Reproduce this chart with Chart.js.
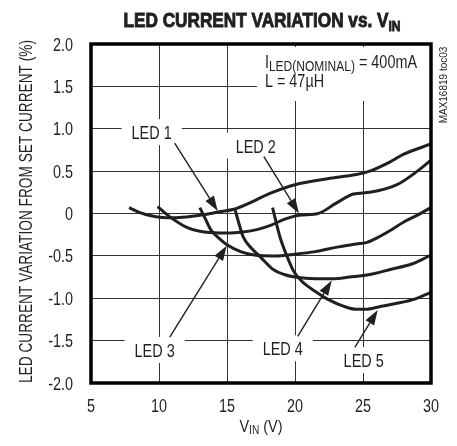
<!DOCTYPE html>
<html>
<head>
<meta charset="utf-8">
<script src="https://cdn.jsdelivr.net/npm/chart.js@4.4.0/dist/chart.umd.min.js"></script>
<style>
  html, body { margin: 0; padding: 0; background: #fff; }
</style>
</head>
<body>
<canvas id="ledVariationChart" width="457" height="446"></canvas>
<script>
// axis ticks
const vinTicks = [5, 10, 15, 20, 25, 30];
const varTicks = [-2.0, -1.5, -1.0, -0.5, 0, 0.5, 1.0, 1.5, 2.0];
const varTickLabels = ['-2.0', '-1.5', '-1.0', '-0.5', '0', '0.5', '1.0', '1.5', '2.0'];

// curves: VIN (V) and current variation (%)
const led1Vin = [7.8, 8.6, 9.5, 10.5, 12.0, 13.5, 14.4, 15.5, 17.0, 18.2, 20.0, 22.4, 24.5, 25.5, 27.0, 28.0, 30.0];
const led1Var = [0.07, 0.01, -0.03, -0.05, -0.04, -0.01, 0.02, 0.05, 0.15, 0.24, 0.34, 0.41, 0.46, 0.50, 0.61, 0.70, 0.82];
const led2Vin = [9.9, 10.8, 12.0, 13.0, 14.5, 16.0, 17.2, 18.2, 19.2, 20.3, 21.7, 23.0, 24.3, 25.5, 27.5, 29.0, 30.0];
const led2Var = [0.08, -0.04, -0.16, -0.21, -0.23, -0.22, -0.19, -0.14, -0.07, -0.02, 0.00, 0.12, 0.23, 0.25, 0.34, 0.50, 0.63];
const led3Vin = [13.0, 13.4, 13.8, 14.4, 15.0, 16.0, 17.0, 18.5, 20.0, 21.5, 23.0, 24.5, 25.3, 26.0, 27.0, 28.0, 29.0, 30.0];
const led3Var = [0.07, -0.06, -0.19, -0.29, -0.37, -0.45, -0.49, -0.50, -0.48, -0.45, -0.40, -0.36, -0.34, -0.29, -0.20, -0.10, -0.02, 0.07];
const led4Vin = [15.6, 15.9, 16.2, 16.8, 17.5, 18.4, 19.2, 20.0, 21.5, 22.8, 24.0, 25.5, 27.0, 28.7, 30.0];
const led4Var = [0.04, -0.13, -0.28, -0.41, -0.52, -0.66, -0.72, -0.75, -0.77, -0.77, -0.75, -0.72, -0.66, -0.59, -0.49];
const led5Vin = [18.35, 18.9, 19.4, 19.9, 20.5, 21.5, 22.5, 23.5, 24.5, 25.2, 26.2, 27.5, 28.8, 30.0];
const led5Var = [0.07, -0.28, -0.50, -0.68, -0.80, -0.92, -1.02, -1.09, -1.13, -1.13, -1.10, -1.06, -1.01, -0.93];

const ledNames = ['LED 1', 'LED 2', 'LED 3', 'LED 4', 'LED 5'];
const ledVin = [led1Vin, led2Vin, led3Vin, led4Vin, led5Vin];
const ledVar = [led1Var, led2Var, led3Var, led4Var, led5Var];

// callout labels and arrows, in data units
const labelVin = [9.46, 17.11, 9.68, 19.10, 25.05];
const labelVar = [0.96, 0.80, -1.61, -1.59, -1.73];
const arrowFromVin = [11.15, 17.71, 10.79, 20.2, 24.4];
const arrowFromVar = [0.83, 0.67, -1.46, -1.45, -1.58];
const arrowToVin = [14.32, 20.29, 14.98, 22.7, 26.08];
const arrowToVar = [0.03, 0.0, -0.38, -0.79, -1.14];

// no condensed face installed, so text is squeezed horizontally
const FONT = "'Liberation Sans', Arial, sans-serif";
const INK = '#231f20';
const SQ = 0.8;

function setFont(c, size, weight) {
    c.font = (weight || 'normal') + ' ' + size + 'px ' + FONT;
}

// parts: [text, size, dy, weight]
function runWidth(c, parts) {
    let w = 0;
    parts.forEach(p => { setFont(c, p[1], p[3]); w += c.measureText(p[0]).width; });
    return w;
}

function drawRun(c, parts, x, y, align, sx, heavy) {
    sx = sx || 1;
    const w = runWidth(c, parts);
    c.save();
    c.translate(x, y);
    c.scale(sx, 1);
    let cx = align === 'center' ? -w / 2 : (align === 'right' ? -w : 0);
    c.textAlign = 'left';
    c.textBaseline = 'alphabetic';
    c.fillStyle = INK;
    c.strokeStyle = INK;
    c.lineWidth = heavy || 0;
    parts.forEach(p => {
        setFont(c, p[1], p[3]);
        c.fillText(p[0], cx, p[2] || 0);
        if (heavy) c.strokeText(p[0], cx, p[2] || 0);
        cx += c.measureText(p[0]).width;
    });
    c.restore();
    return w * sx;
}

const LABEL_SIZE = 19;
const LABEL_SQ = 0.76;
const noteLine1 = [['I', 18], ['LED(NOMINAL)', 15, 3], [' = 400mA', 18]];
const noteLine2 = [['L = 47\u00b5H', 18]];

const annotations = {
    id: 'annotations',
    beforeDatasetsDraw(chart) {
        const c = chart.ctx, xs = chart.scales.x, ys = chart.scales.y;
        c.save();
        c.fillStyle = '#fff';
        ledNames.forEach((name, i) => {
            const cx = xs.getPixelForValue(labelVin[i]);
            const cy = ys.getPixelForValue(labelVar[i]);
            const w = runWidth(c, [[name, LABEL_SIZE]]) * LABEL_SQ;
            c.fillRect(cx - w / 2 - 10, cy - 13, w + 20, 26);
        });
        const nx = xs.getPixelForValue(17.79);
        c.fillRect(nx - 8, chart.chartArea.top + 3, chart.chartArea.right - nx + 8, 54);
        c.restore();
    },
    afterDatasetsDraw(chart) {
        const c = chart.ctx, xs = chart.scales.x, ys = chart.scales.y;
        const a = chart.chartArea;
        c.save();
        // labels and arrows
        ledNames.forEach((name, i) => {
            const cx = xs.getPixelForValue(labelVin[i]);
            const cy = ys.getPixelForValue(labelVar[i]);
            drawRun(c, [[name, LABEL_SIZE]], cx, cy + 7, 'center', LABEL_SQ);
            const x0 = xs.getPixelForValue(arrowFromVin[i]), y0 = ys.getPixelForValue(arrowFromVar[i]);
            const x1 = xs.getPixelForValue(arrowToVin[i]), y1 = ys.getPixelForValue(arrowToVar[i]);
            const ang = Math.atan2(y1 - y0, x1 - x0);
            const hl = 15, hw = 5;
            const bx = x1 - hl * Math.cos(ang), by = y1 - hl * Math.sin(ang);
            c.strokeStyle = INK;
            c.lineWidth = 1.4;
            c.beginPath();
            c.moveTo(x0, y0);
            c.lineTo(bx, by);
            c.stroke();
            c.fillStyle = INK;
            c.beginPath();
            c.moveTo(x1, y1);
            c.lineTo(bx + hw * Math.sin(ang), by - hw * Math.cos(ang));
            c.lineTo(bx - hw * Math.sin(ang), by + hw * Math.cos(ang));
            c.closePath();
            c.fill();
        });
        // condition note
        const nx = xs.getPixelForValue(17.79);
        drawRun(c, noteLine1, nx, ys.getPixelForValue(1.713), 'left', SQ);
        drawRun(c, noteLine2, nx, ys.getPixelForValue(1.49), 'left', SQ);
        // frame
        c.strokeStyle = '#000';
        c.lineWidth = 3.5;
        c.strokeRect(a.left, a.top, a.right - a.left, a.bottom - a.top);
        c.restore();
    },
    afterDraw(chart) {
        const c = chart.ctx, xs = chart.scales.x, ys = chart.scales.y;
        const a = chart.chartArea;
        c.save();
        // tick labels, placed by the chart's scales
        vinTicks.forEach(v => {
            drawRun(c, [[String(v), 18]], xs.getPixelForValue(v), a.bottom + 29, 'center', SQ);
        });
        varTicks.forEach((v, i) => {
            drawRun(c, [[varTickLabels[i], 18]], a.left - 18, ys.getPixelForValue(v) + 6.5, 'right', SQ);
        });
        // title
        drawRun(c, [['LED CURRENT VARIATION vs. V', 20, 0, 'bold'], ['IN', 14, 4, 'bold']], 262, 27, 'center', 0.86, 0.9);
        // x axis title
        drawRun(c, [['V', 17], ['IN', 12, 2], [' (V)', 17]], (a.left + a.right) / 2, 432, 'center', 0.85);
        // y axis title
        c.save();
        c.translate(32, (a.top + a.bottom) / 2 - 2);
        c.rotate(-Math.PI / 2);
        drawRun(c, [['LED CURRENT VARIATION FROM SET CURRENT (%)', 18]], 0, 0, 'center', 0.76);
        c.restore();
        // figure id
        c.save();
        c.translate(447, 85);
        c.rotate(-Math.PI / 2);
        drawRun(c, [['MAX16819 toc03', 10]], 0, 0, 'center', 1);
        c.restore();
        c.restore();
    }
};

const ctx = document.getElementById('ledVariationChart');

new Chart(ctx, {
    type: 'line',
    data: {
        datasets: ledNames.map((name, i) => ({
            label: name,
            data: ledVin[i].map((v, j) => ({ x: v, y: ledVar[i][j] })),
            borderColor: INK,
            borderWidth: 3,
            pointRadius: 0,
            fill: false,
            cubicInterpolationMode: 'monotone'
        }))
    },
    options: {
        responsive: false,
        animation: false,
        events: [],
        layout: { padding: { top: 44, right: 26, bottom: 0, left: 0 } },
        plugins: {
            legend: { display: false },
            tooltip: { enabled: false },
            title: { display: false }
        },
        scales: {
            x: {
                type: 'linear',
                min: vinTicks[0],
                max: vinTicks[vinTicks.length - 1],
                afterBuildTicks: s => { s.ticks = vinTicks.map(v => ({ value: v })); },
                afterFit: s => { s.height = 63; },
                ticks: { display: false },
                grid: { color: '#333', lineWidth: 1, drawTicks: false },
                border: { display: false }
            },
            y: {
                min: varTicks[0],
                max: varTicks[varTicks.length - 1],
                afterBuildTicks: s => { s.ticks = varTicks.map(v => ({ value: v })); },
                afterFit: s => { s.width = 91; },
                ticks: { display: false },
                grid: { color: '#333', lineWidth: 1, drawTicks: false },
                border: { display: false }
            }
        }
    },
    plugins: [annotations]
});
</script>
</body>
</html>
